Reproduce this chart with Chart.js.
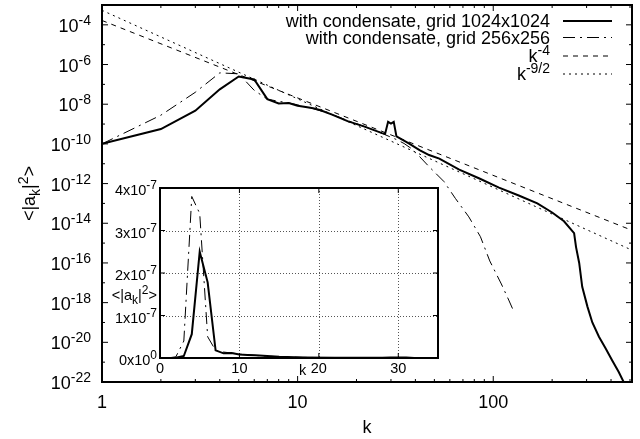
<!DOCTYPE html>
<html>
<head>
<meta charset="utf-8">
<script src="https://cdn.jsdelivr.net/npm/chart.js@4.4.1/dist/chart.umd.min.js"></script>
<style>
  body { margin: 0; background: #fff; }
  #wrap { position: relative; width: 640px; height: 439px; }
  #main { position: absolute; left: 0; top: 0; }
  #inset { position: absolute; left: 100px; top: 180px; }
</style>
</head>
<body>
<div id="wrap">
  <canvas id="main" width="640" height="439"></canvas>
  <canvas id="inset" width="345" height="200"></canvas>
</div>
<script>
// spectrum <|a_k|^2>, run on grid 1024x1024
const kFine = [1, 2, 3, 4, 5, 6, 7, 8, 9, 10, 11, 12, 13, 15, 18, 22, 27, 28, 29, 30, 31, 32,
  37, 42, 47, 53, 67, 85, 107, 135, 168, 200, 230, 259, 265, 275, 285, 303, 321, 347, 375, 405, 438, 464, 512];
const specFine = [1.0e-10, 5.6e-10, 4.7e-9, 5.6e-8, 2.5e-7, 1.78e-7, 1.8e-8, 1.1e-8, 1.15e-8, 8.3e-9, 7.2e-9, 6.3e-9, 5.1e-9,
  3.0e-9, 1.4e-9, 7.4e-10, 3.5e-10, 3.2e-10, 1.3e-9, 1.05e-9, 1.3e-9, 2.4e-10,
  1.07e-10, 4.9e-11, 2.75e-11, 1.8e-11, 5.1e-12, 1.8e-12, 6.3e-13, 2.5e-13, 1.0e-13,
  3.5e-14, 1.26e-14, 3.2e-15, 6.3e-16, 1.0e-16, 6.3e-18, 6.3e-19, 1.0e-19, 1.9e-20, 5.0e-21, 1.26e-21, 3.2e-22, 1.0e-22, 1.26e-23];

// spectrum, grid 256x256
const kCoarse = [1, 2, 3, 4, 5, 6, 7, 8, 9, 10, 12, 14, 16, 18, 20, 23, 26, 29, 32,
  35, 38, 42, 47, 56, 64, 75, 86, 96, 110, 120, 128];
const specCoarse = [1.0e-10, 2.8e-9, 4.0e-8, 3.8e-7, 3.4e-7, 5.0e-8, 1.8e-8, 1.4e-8, 1.17e-8, 9.3e-9,
  6.0e-9, 3.8e-9, 2.4e-9, 1.5e-9, 1.05e-9, 6.3e-10, 4.0e-10, 2.5e-10, 1.66e-10,
  1.05e-10, 6.0e-11, 2.3e-11, 7.1e-12, 1.26e-12, 1.8e-13, 2.1e-14, 2.1e-15, 1.26e-16, 8.7e-18, 1.35e-18, 3.2e-19];

// power law guide lines (end points)
const kLaw = [1, 512];
const lawK4 = [1.66e-4, 4.4e-15];
const lawK92 = [5.4e-4, 4.4e-16];

const seriesLabels = ['with condensate, grid 1024x1024', 'with condensate, grid 256x256', 'k^{-4}', 'k^{-9/2}'];

// main axes
const mainXTicks = [1, 10, 100];
const mainXLabels = ['1', '10', '100'];
const mainXMinor = [2, 3, 4, 5, 6, 7, 8, 9, 20, 30, 40, 50, 60, 70, 80, 90, 200, 300, 400, 500];
const mainYTicks = [1e-4, 1e-6, 1e-8, 1e-10, 1e-12, 1e-14, 1e-16, 1e-18, 1e-20, 1e-22];
const mainYLabels = ['10^{-4}', '10^{-6}', '10^{-8}', '10^{-10}', '10^{-12}', '10^{-14}', '10^{-16}', '10^{-18}', '10^{-20}', '10^{-22}'];
const mainYMinor = [1e-5, 1e-7, 1e-9, 1e-11, 1e-13, 1e-15, 1e-17, 1e-19, 1e-21];

// inset axes
const insetXTicks = [0, 10, 20, 30];
const insetXLabels = ['0', '10', '20', '30'];
const insetYTicks = [0, 1e-7, 2e-7, 3e-7, 4e-7];
const insetYLabels = ['0x10^{0}', '1x10^{-7}', '2x10^{-7}', '3x10^{-7}', '4x10^{-7}'];

const FONT = '"Liberation Sans", Arial, Helvetica, sans-serif';

function pairs(xs, ys) {
  return xs.map((x, i) => ({ x: x, y: ys[i] }));
}

// tiny parser for ^{..} and _{..}
function richParts(str) {
  const parts = [];
  let i = 0;
  while (i < str.length) {
    const c = str[i];
    if ((c === '^' || c === '_') && i + 1 < str.length) {
      let t;
      if (str[i + 1] === '{') {
        const j = str.indexOf('}', i);
        t = str.slice(i + 2, j);
        i = j + 1;
      } else {
        t = str[i + 1];
        i += 2;
      }
      parts.push({ t: t, k: c === '^' ? 'sup' : 'sub' });
    } else {
      const last = parts[parts.length - 1];
      if (last && last.k === 'n') last.t += c;
      else parts.push({ t: c, k: 'n' });
      i++;
    }
  }
  return parts;
}

function drawRich(ctx, str, x, y, align, size) {
  const parts = richParts(str);
  const fontOf = p => (p.k === 'n' ? size : Math.round(size * 0.8)) + 'px ' + FONT;
  let w = 0;
  parts.forEach(p => {
    ctx.font = fontOf(p);
    p.w = ctx.measureText(p.t).width;
    w += p.w;
  });
  let cx = align === 'right' ? x - w : align === 'center' ? x - w / 2 : x;
  ctx.textAlign = 'left';
  ctx.textBaseline = 'alphabetic';
  parts.forEach(p => {
    ctx.font = fontOf(p);
    const dy = p.k === 'sup' ? -size * 0.38 : p.k === 'sub' ? size * 0.25 : 0;
    ctx.fillText(p.t, cx, y + dy);
    cx += p.w;
  });
}

function drawFrameTicks(chart, xMajor, yMajor, xMinor, yMinor, majLen, minLen, frameW) {
  const { ctx, chartArea: a, scales: { x, y } } = chart;
  ctx.save();
  ctx.strokeStyle = '#000';
  ctx.lineWidth = 1;
  ctx.setLineDash([]);
  ctx.beginPath();
  const xt = (v, len) => {
    const px = x.getPixelForValue(v);
    ctx.moveTo(px, a.bottom); ctx.lineTo(px, a.bottom - len);
    ctx.moveTo(px, a.top); ctx.lineTo(px, a.top + len);
  };
  const yt = (v, len) => {
    const py = y.getPixelForValue(v);
    ctx.moveTo(a.left, py); ctx.lineTo(a.left + len, py);
    ctx.moveTo(a.right, py); ctx.lineTo(a.right - len, py);
  };
  xMajor.forEach(v => xt(v, majLen));
  xMinor.forEach(v => xt(v, minLen));
  yMajor.forEach(v => yt(v, majLen));
  yMinor.forEach(v => yt(v, minLen));
  ctx.stroke();
  ctx.lineWidth = frameW;
  ctx.strokeRect(a.left, a.top, a.right - a.left, a.bottom - a.top);
  ctx.restore();
}

const mainDecor = {
  id: 'mainDecor',
  afterDatasetsDraw(chart) {
    const { ctx, chartArea: a, scales: { x, y } } = chart;
    drawFrameTicks(chart, mainXTicks, mainYTicks, mainXMinor, mainYMinor, 6, 3, 2);
    ctx.save();
    ctx.fillStyle = '#000';
    mainYTicks.forEach((v, i) => drawRich(ctx, mainYLabels[i], 91, y.getPixelForValue(v) + 7, 'right', 18));
    mainXTicks.forEach((v, i) => drawRich(ctx, mainXLabels[i], x.getPixelForValue(v), 408, 'center', 18));
    drawRich(ctx, 'k', (a.left + a.right) / 2, 433, 'center', 18);
    ctx.save();
    ctx.translate(35, (a.top + a.bottom) / 2);
    ctx.rotate(-Math.PI / 2);
    drawRich(ctx, '<|a_k|^{2}>', 0, 0, 'center', 18);
    ctx.restore();
    // key
    const rowY = [21, 37.5, 56, 74];
    chart.data.datasets.forEach((ds, i) => {
      drawRich(ctx, ds.label, 550, rowY[i] + 6, 'right', 18);
      ctx.strokeStyle = ds.borderColor;
      ctx.lineWidth = ds.borderWidth;
      ctx.setLineDash(ds.borderDash || []);
      ctx.beginPath();
      ctx.moveTo(563, rowY[i]);
      ctx.lineTo(612, rowY[i]);
      ctx.stroke();
    });
    ctx.restore();
  }
};

const insetDecor = {
  id: 'insetDecor',
  beforeDatasetsDraw(chart) {
    const { ctx, chartArea: a, scales: { x, y } } = chart;
    ctx.save();
    ctx.fillStyle = '#fff';
    ctx.fillRect(a.left, a.top, a.right - a.left, a.bottom - a.top);
    ctx.strokeStyle = '#555';
    ctx.lineWidth = 1;
    ctx.setLineDash([1, 2]);
    ctx.beginPath();
    insetXTicks.slice(1).forEach(v => {
      const px = Math.round(x.getPixelForValue(v)) + 0.5;
      ctx.moveTo(px, a.top); ctx.lineTo(px, a.bottom);
    });
    insetYTicks.slice(1, -1).forEach(v => {
      const py = Math.round(y.getPixelForValue(v)) + 0.5;
      ctx.moveTo(a.left, py); ctx.lineTo(a.right, py);
    });
    ctx.stroke();
    ctx.restore();
  },
  afterDatasetsDraw(chart) {
    const { ctx, chartArea: a, scales: { x, y } } = chart;
    drawFrameTicks(chart, insetXTicks, insetYTicks, [], [], 5, 3, 2);
    ctx.save();
    ctx.fillStyle = '#000';
    insetYTicks.forEach((v, i) => drawRich(ctx, insetYLabels[i], a.left - 3, y.getPixelForValue(v) + 7, 'right', 14.5));
    insetXTicks.forEach((v, i) => drawRich(ctx, insetXLabels[i], x.getPixelForValue(v), a.bottom + 15, 'center', 14.5));
    drawRich(ctx, 'k', 202.5, a.bottom + 17, 'center', 14.5);
    drawRich(ctx, '<|a_k|^{2}>', a.left - 3, 120, 'right', 14.5);
    ctx.restore();
  }
};

function lineDs(label, data, width, dash) {
  return {
    label: label,
    data: data,
    borderColor: '#000',
    backgroundColor: '#000',
    borderWidth: width,
    borderDash: dash,
    pointRadius: 0,
    tension: 0,
    fill: false
  };
}

const fixedScale = (w, h) => ({
  grid: { display: false },
  border: { display: false },
  ticks: { display: false },
  afterFit(s) {
    if (w !== null) s.width = w;
    if (h !== null) s.height = h;
  }
});

new Chart(document.getElementById('main'), {
  type: 'line',
  data: {
    datasets: [
      lineDs(seriesLabels[0], pairs(kFine, specFine), 2, []),
      lineDs(seriesLabels[1], pairs(kCoarse, specCoarse), 1, [12, 5, 2, 5]),
      lineDs(seriesLabels[2], pairs(kLaw, lawK4), 1, [5, 5]),
      lineDs(seriesLabels[3], pairs(kLaw, lawK92), 1, [2, 4])
    ]
  },
  options: {
    responsive: false,
    animation: false,
    events: [],
    layout: { padding: { left: 0, top: 5, right: 8, bottom: 0 } },
    plugins: { legend: { display: false }, tooltip: { enabled: false } },
    scales: {
      x: Object.assign({ type: 'logarithmic', position: 'bottom', min: 1, max: 512,
        afterBuildTicks(s) { s.ticks = mainXTicks.map(v => ({ value: v })); } }, fixedScale(null, 57)),
      y: Object.assign({ type: 'logarithmic', position: 'left', min: 1e-22, max: 1e-3,
        afterBuildTicks(s) { s.ticks = mainYTicks.map(v => ({ value: v })); } }, fixedScale(102, null))
    }
  },
  plugins: [mainDecor]
});

new Chart(document.getElementById('inset'), {
  type: 'line',
  data: {
    datasets: [
      lineDs(seriesLabels[0], pairs(kFine, specFine), 2, []),
      lineDs(seriesLabels[1], pairs(kCoarse, specCoarse), 1, [12, 5, 2, 5])
    ]
  },
  options: {
    responsive: false,
    animation: false,
    events: [],
    layout: { padding: { left: 0, top: 8, right: 7, bottom: 0 } },
    plugins: { legend: { display: false }, tooltip: { enabled: false } },
    scales: {
      x: Object.assign({ type: 'linear', position: 'bottom', min: 0, max: 35,
        afterBuildTicks(s) { s.ticks = insetXTicks.map(v => ({ value: v })); } }, fixedScale(null, 22)),
      y: Object.assign({ type: 'linear', position: 'left', min: 0, max: 4e-7,
        afterBuildTicks(s) { s.ticks = insetYTicks.map(v => ({ value: v })); } }, fixedScale(60, null))
    }
  },
  plugins: [insetDecor]
});
</script>
</body>
</html>
